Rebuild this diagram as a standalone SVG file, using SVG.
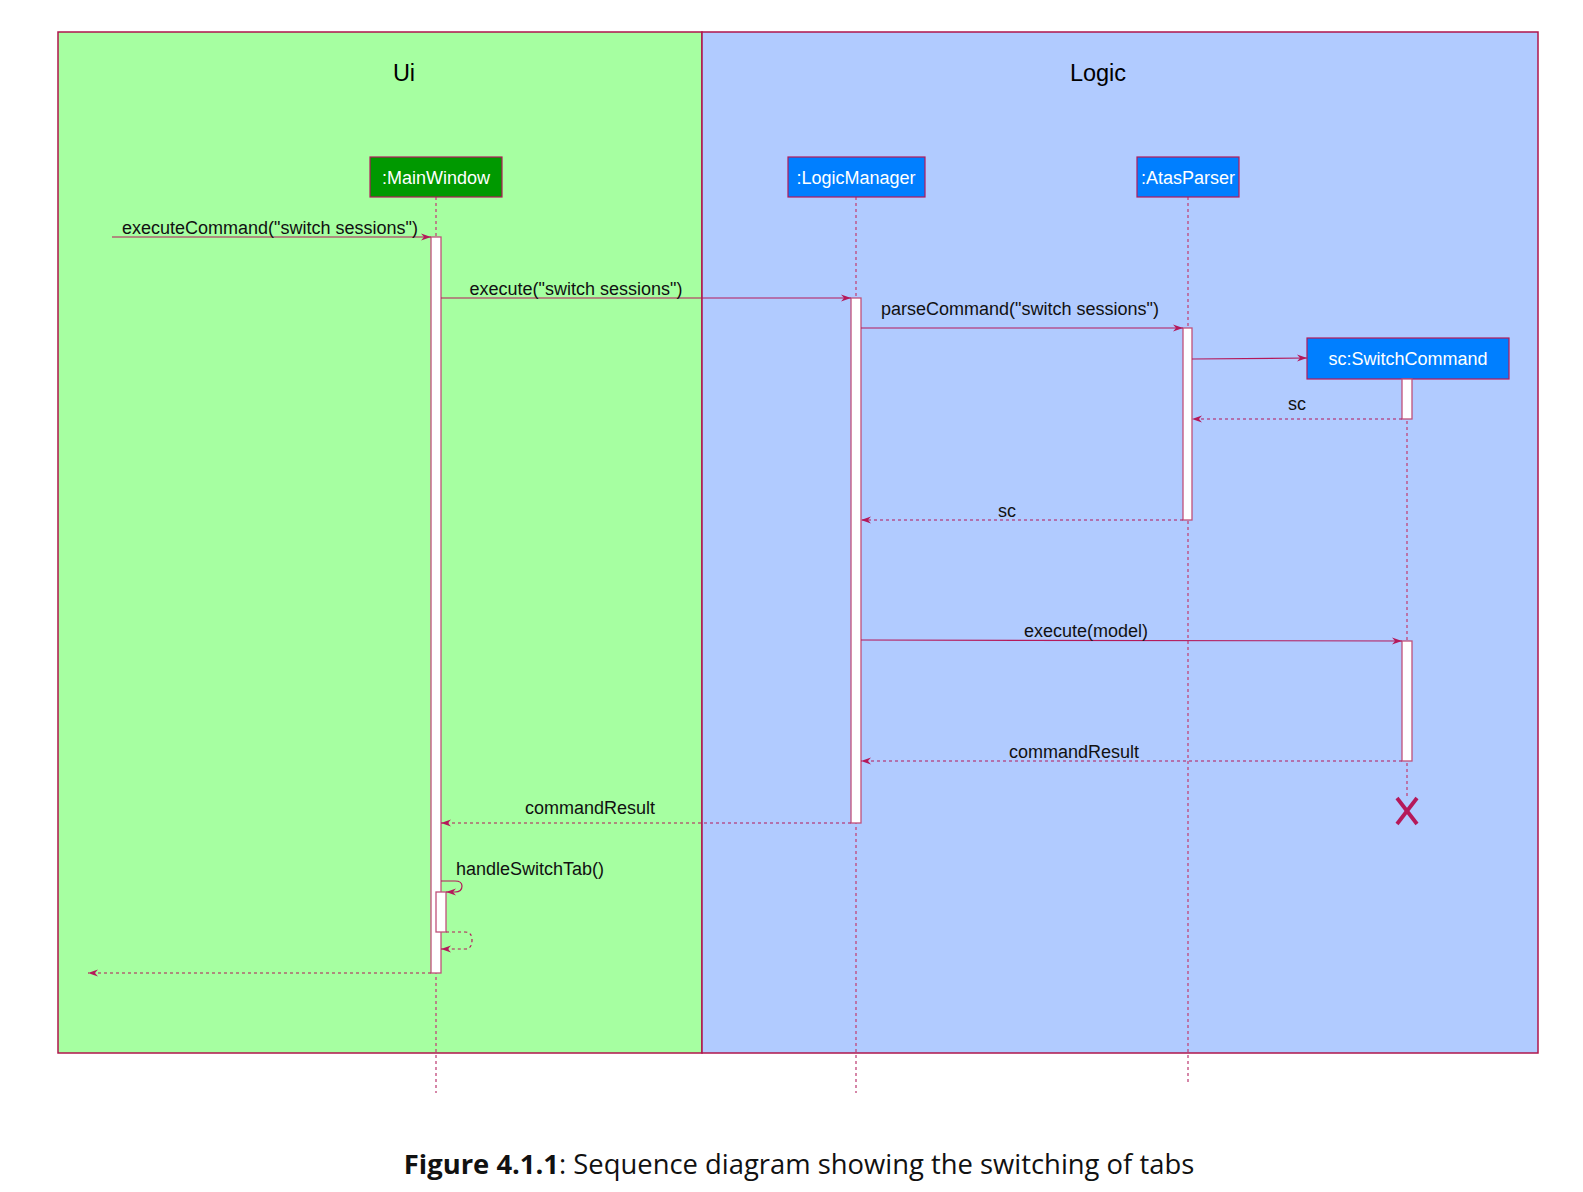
<svg xmlns="http://www.w3.org/2000/svg" width="1583" height="1192" viewBox="0 0 1583 1192">
<style>
.frame{stroke:#b0164c;stroke-width:1.5}
.title{font-family:"Liberation Sans",Arial,sans-serif;font-size:23.5px;fill:#000;text-anchor:middle}
.box{stroke:#b5195a;stroke-width:1.2}
.btxt{font-family:"Liberation Sans",Arial,sans-serif;font-size:18px;fill:#fff;text-anchor:middle}
.life{stroke:#c0477a;stroke-width:1.3;stroke-dasharray:3,3;fill:none}
.act{fill:#fff;stroke:#c0507a;stroke-width:1.3}
.msg{stroke:#b5195a;stroke-width:1.2;fill:none}
.ret{stroke:#b5195a;stroke-width:1.2;fill:none;stroke-dasharray:3,3}
.lbl{font-family:"Liberation Sans",Arial,sans-serif;font-size:18px;fill:#111;text-anchor:middle}
.cap{font-family:"Open Sans","Noto Sans",sans-serif;font-size:27.4px;fill:#111;text-anchor:middle}
</style>
<defs>
<marker id="ah" viewBox="0 0 10 10" refX="10" refY="5" markerWidth="10" markerHeight="10" markerUnits="userSpaceOnUse" orient="auto">
<path d="M0,1.5 L10,5 L0,8.5 L3,5 Z" fill="#b5195a"/>
</marker>
</defs>
<rect width="1583" height="1192" fill="#fff"/>
<g id="frame-ui">
<rect x="58" y="32" width="644" height="1021" fill="#a6ffa1" class="frame"/>
<text x="404" y="81" class="title">Ui</text>
</g>
<g id="frame-logic">
<rect x="702" y="32" width="836" height="1021" fill="#b1cbff" class="frame"/>
<text x="1098" y="81" class="title">Logic</text>
</g>
<g id="lifelines">
<line x1="436" y1="197" x2="436" y2="1093" class="life"/>
<line x1="856" y1="197" x2="856" y2="1093" class="life"/>
<line x1="1188" y1="197" x2="1188" y2="1083" class="life"/>
<line x1="1407" y1="379" x2="1407" y2="798" class="life"/>
</g>
<g id="MainWindow">
<rect x="370" y="157" width="132" height="40" fill="#009900" class="box"/>
<text x="436" y="183.5" class="btxt">:MainWindow</text>
</g>
<g id="LogicManager">
<rect x="788" y="157" width="137" height="40" fill="#007fff" class="box"/>
<text x="856" y="183.5" class="btxt">:LogicManager</text>
</g>
<g id="AtasParser">
<rect x="1137" y="157" width="102" height="40" fill="#007fff" class="box"/>
<text x="1188" y="183.5" class="btxt">:AtasParser</text>
</g>
<g id="SwitchCommand">
<rect x="1307" y="338" width="202" height="41" fill="#007fff" class="box"/>
<text x="1408" y="365" class="btxt">sc:SwitchCommand</text>
</g>
<g id="activations">
<rect x="431" y="237" width="10" height="736" class="act"/>
<rect x="436" y="892" width="10" height="40" class="act"/>
<rect x="851" y="298" width="10" height="525" class="act"/>
<rect x="1183" y="328" width="9" height="192" class="act"/>
<rect x="1402" y="379" width="10" height="40" class="act"/>
<rect x="1402" y="641" width="10" height="120" class="act"/>
</g>
<g id="connectors">
<line x1="112" y1="237" x2="431" y2="237" class="msg" marker-end="url(#ah)"/>
<line x1="441" y1="298" x2="851" y2="298" class="msg" marker-end="url(#ah)"/>
<line x1="861" y1="328" x2="1183" y2="328" class="msg" marker-end="url(#ah)"/>
<line x1="1192" y1="359" x2="1307" y2="358" class="msg" marker-end="url(#ah)"/>
<line x1="1402" y1="419" x2="1192" y2="419" class="ret" marker-end="url(#ah)"/>
<line x1="1183" y1="520" x2="861" y2="520" class="ret" marker-end="url(#ah)"/>
<line x1="861" y1="640" x2="1402" y2="641" class="msg" marker-end="url(#ah)"/>
<line x1="1402" y1="761" x2="861" y2="761" class="ret" marker-end="url(#ah)"/>
<line x1="851" y1="823" x2="441" y2="823" class="ret" marker-end="url(#ah)"/>
<path d="M441,881 L455,881 Q462,881 462,886 Q462,892 455,892 L446,892" class="msg" marker-end="url(#ah)"/>
<path d="M446,932 L465,932 Q472,932 472,940 Q472,949 465,949 L441,949" class="ret" marker-end="url(#ah)"/>
<line x1="431" y1="973" x2="88" y2="973" class="ret" marker-end="url(#ah)"/>
<line x1="1397" y1="798" x2="1417" y2="824" stroke="#b5195a" stroke-width="3.8"/>
<line x1="1417" y1="798" x2="1397" y2="824" stroke="#b5195a" stroke-width="3.8"/>
</g>
<g id="labels">
<text x="270" y="234" class="lbl">executeCommand("switch sessions")</text>
<text x="576" y="295" class="lbl">execute("switch sessions")</text>
<text x="1020" y="315" class="lbl">parseCommand("switch sessions")</text>
<text x="1297" y="410" class="lbl">sc</text>
<text x="1007" y="517" class="lbl">sc</text>
<text x="1086" y="637" class="lbl">execute(model)</text>
<text x="1074" y="758" class="lbl">commandResult</text>
<text x="590" y="814" class="lbl">commandResult</text>
<text x="456" y="875" class="lbl" style="text-anchor:start">handleSwitchTab()</text>
</g>
<text x="799" y="1174" class="cap"><tspan font-weight="bold">Figure 4.1.1</tspan>: Sequence diagram showing the switching of tabs</text>
</svg>
